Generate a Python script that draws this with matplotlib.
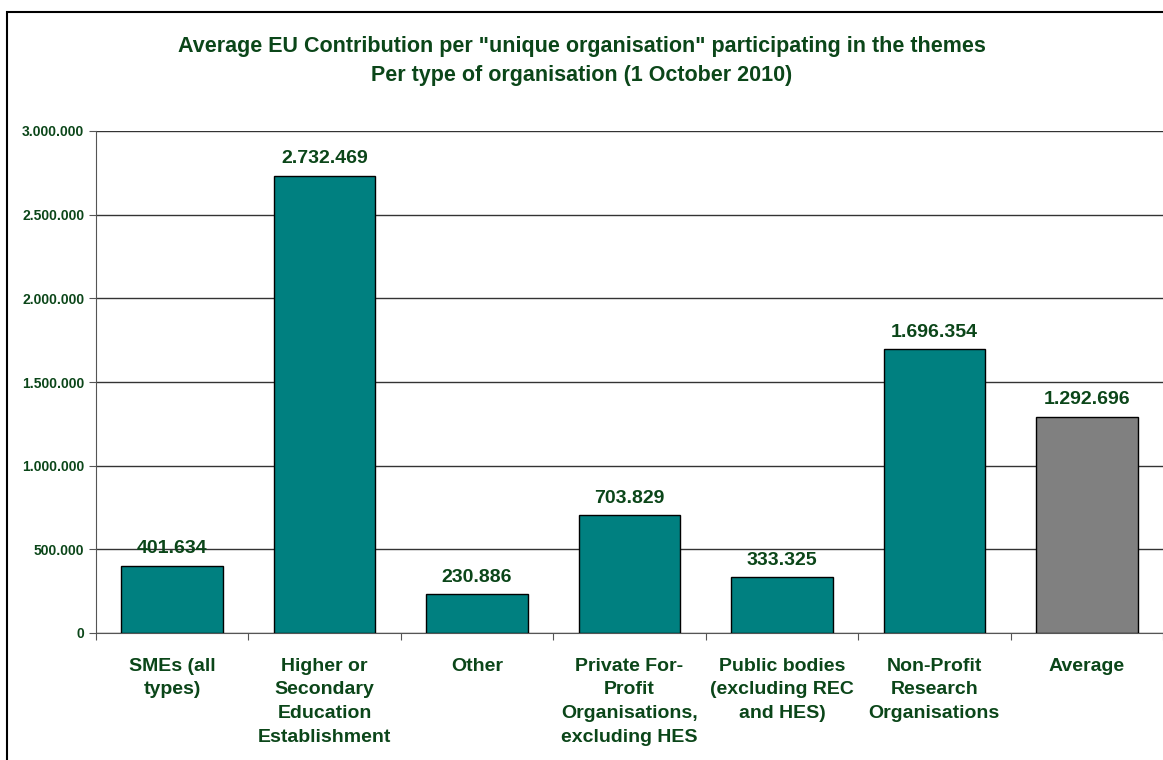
import numpy as np
import matplotlib
matplotlib.use('Agg')
from matplotlib import pyplot as plt
from matplotlib.patches import Rectangle

categories = ['SMEs (all\ntypes)', 'Higher or\nSecondary\nEducation\nEstablishment', 'Other',
              'Private For-\nProfit\nOrganisations,\nexcluding HES',
              'Public bodies\n(excluding REC\nand HES)', 'Non-Profit\nResearch\nOrganisations',
              'Average']
values = [401634, 2732469, 230886, 703829, 333325, 1696354, 1292696]
bar_colors = ['#008080'] * 6 + ['#808080']
title = 'Average EU Contribution per "unique organisation" participating in the themes\nPer type of organisation (1 October 2010)'

text_green = '#0b4619'
plt.rcParams['font.family'] = ['Liberation Sans', 'DejaVu Sans']
plt.rcParams['font.weight'] = 'bold'


def dotted(v):
    return f'{v:,.0f}'.replace(',', '.')


fig = plt.figure(figsize=(11.63, 7.6), dpi=100)
fig.patches.append(Rectangle((7 / 1163, -0.1), 1.2, 0.1 + (760 - 12) / 760, transform=fig.transFigure,
                             fill=False, edgecolor='black', linewidth=1.5))
ax = fig.add_axes([96 / 1163, 127 / 760, 1 - 96 / 1163, 502 / 760])

x = np.arange(len(values))
ax.bar(x, values, width=0.667, color=bar_colors, edgecolor='black', linewidth=1, zorder=3)
for xi, v in zip(x, values):
    ax.annotate(dotted(v), (xi, v), xytext=(0, 6), textcoords='offset points',
                ha='center', va='bottom', fontsize=14, fontweight='bold', color=text_green)

ax.set_xlim(-0.5, len(values) - 0.5)
ax.set_ylim(0, 3000000)
yt = np.arange(0, 3000001, 500000)
ax.set_yticks(yt)
ax.set_yticklabels([dotted(v) for v in yt], fontsize=10, fontweight='bold', color=text_green)
ax.yaxis.grid(True, color='#333333', linewidth=1)
ax.set_axisbelow(True)
ax.set_xticks(np.arange(len(values) + 1) - 0.5)
ax.set_xticklabels([])
ax.set_xticks(x, minor=True)
ax.set_xticklabels(categories, minor=True, fontsize=14, fontweight='bold', color=text_green,
                   linespacing=1.5, va='top')
ax.tick_params(axis='x', which='minor', length=0, pad=18)
ax.tick_params(axis='x', which='major', length=5, color='#555555')
ax.tick_params(axis='y', length=5, color='#555555')
for s in ['top', 'right']:
    ax.spines[s].set_visible(False)
ax.spines['left'].set_color('#555555')
ax.spines['bottom'].set_color('#555555')

fig.text(0.5, 1 - 61 / 760, title, ha='center', va='center', fontsize=15.5, fontweight='bold',
         color=text_green, linespacing=1.45)

fig.savefig('out.png', dpi=100)
